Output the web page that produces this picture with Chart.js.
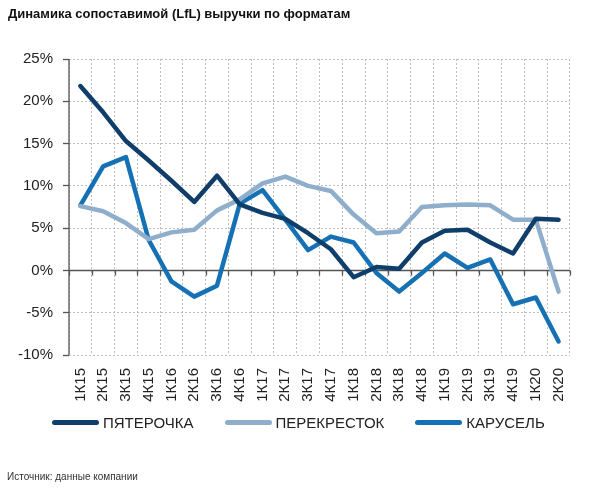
<!DOCTYPE html>
<html>
<head>
<meta charset="utf-8">
<script src="https://cdn.jsdelivr.net/npm/chart.js@4/dist/chart.umd.min.js"></script>
<style>
  body { margin: 0; background: #fff; font-family: "Liberation Sans", Arial, sans-serif; }
  #wrap { position: relative; width: 590px; height: 488px; }
  #chart { position: absolute; left: 0; top: 0; }
  #title { position: absolute; left: 8px; top: 6px; font-size: 13px; font-weight: bold; color: #111; }
  #source { position: absolute; left: 7px; top: 471px; font-size: 10px; color: #333; }
  #legend { position: absolute; left: 52px; top: 414px; display: flex; gap: 31px; font-size: 15px; color: #222; }
  #legend .item { display: flex; align-items: center; }
  #legend .swatch { width: 47px; height: 5px; border-radius: 3px; margin-right: 4px; }
</style>
</head>
<body>
<div id="wrap">
  <canvas id="chart" width="590" height="488"></canvas>
  <div id="title">Динамика сопоставимой (LfL) выручки по форматам</div>
  <div id="legend"></div>
  <div id="source">Источник: данные компании</div>
</div>
<script>
// quarters
var labels = ['1К15', '2К15', '3К15', '4К15', '1К16', '2К16', '3К16', '4К16', '1К17', '2К17', '3К17',
              '4К17', '1К18', '2К18', '3К18', '4К18', '1К19', '2К19', '3К19', '4К19', '1К20', '2К20'];

// LfL, %
var pyaterochka = [21.8, 18.7, 15.3, 13.0, 10.6, 8.1, 11.2, 7.8, 6.8, 6.1, 4.4,
                   2.5, -0.8, 0.4, 0.2, 3.3, 4.7, 4.8, 3.3, 2.0, 6.1, 6.0];
var perekrestok = [7.6, 7.0, 5.6, 3.7, 4.5, 4.8, 7.1, 8.4, 10.3, 11.1, 10.0,
                   9.4, 6.6, 4.4, 4.6, 7.5, 7.7, 7.8, 7.7, 6.0, 6.0, -2.5];
var karusel = [7.7, 12.3, 13.4, 3.6, -1.3, -3.1, -1.8, 7.9, 9.5, 6.0, 2.4,
               4.0, 3.3, -0.3, -2.5, -0.3, 2.0, 0.3, 1.3, -4.0, -3.2, -8.4];

// solid axis lines: left border and zero line with ticks under it
var axisLines = {
    id: 'axisLines',
    beforeDatasetsDraw: function (chart) {
        var ctx = chart.ctx;
        var y = chart.scales.y;
        var area = chart.chartArea;
        var y0 = Math.round(y.getPixelForValue(0)) + 0.5;
        ctx.save();
        ctx.strokeStyle = '#555';
        ctx.lineWidth = 1.3;
        ctx.beginPath();
        ctx.moveTo(area.left, area.top);
        ctx.lineTo(area.left, area.bottom);
        ctx.moveTo(area.left, y0);
        ctx.lineTo(area.right, y0);
        var step = (area.right - area.left) / labels.length;
        for (var i = 0; i <= labels.length; i++) {
            var gx = Math.round(area.left + step * i) + 0.5;
            ctx.moveTo(gx, y0);
            ctx.lineTo(gx, y0 + 5);
        }
        ctx.stroke();
        ctx.restore();
    }
};

var font = { family: '"Liberation Sans", Arial, sans-serif', size: 15 };

var chart = new Chart(document.getElementById('chart'), {
    type: 'line',
    data: {
        labels: labels,
        datasets: [
            { label: 'ПЯТЕРОЧКА', data: pyaterochka, borderColor: '#0f3e6b', backgroundColor: '#0f3e6b' },
            { label: 'ПЕРЕКРЕСТОК', data: perekrestok, borderColor: '#8eaecb', backgroundColor: '#8eaecb' },
            { label: 'КАРУСЕЛЬ', data: karusel, borderColor: '#1670b4', backgroundColor: '#1670b4' }
        ]
    },
    options: {
        responsive: false,
        animation: false,
        layout: { padding: { left: 0, right: 19, top: 59, bottom: 76 } },
        elements: {
            line: { borderWidth: 4.5, tension: 0, borderJoinStyle: 'round', borderCapStyle: 'round' },
            point: { radius: 0, hoverRadius: 0 }
        },
        scales: {
            x: {
                offset: true,
                grid: { offset: true, color: '#bdbdbd', lineWidth: 1, drawTicks: false },
                border: { display: false, dash: [2, 2] },
                ticks: { font: font, color: '#222', minRotation: 90, maxRotation: 90, padding: 13, autoSkip: false },
                afterFit: function (scale) { scale.height = 57; }
            },
            y: {
                min: -10,
                max: 25,
                grid: { color: '#bdbdbd', lineWidth: 1, tickLength: 6, tickColor: '#555', tickWidth: 1.3 },
                border: { display: false, dash: [2, 2] },
                ticks: {
                    stepSize: 5,
                    font: font,
                    color: '#222',
                    padding: 10,
                    callback: function (v) { return v + '%'; }
                },
                afterFit: function (scale) { scale.width = 69; }
            }
        },
        plugins: {
            legend: { display: false },
            tooltip: { enabled: false }
        }
    },
    plugins: [axisLines]
});

// legend built from the datasets
var legendEl = document.getElementById('legend');
chart.data.datasets.forEach(function (ds) {
    var item = document.createElement('div');
    item.className = 'item';
    item.innerHTML = '<span class="swatch" style="background:' + ds.borderColor + '"></span>' + ds.label;
    legendEl.appendChild(item);
});
</script>
</body>
</html>
